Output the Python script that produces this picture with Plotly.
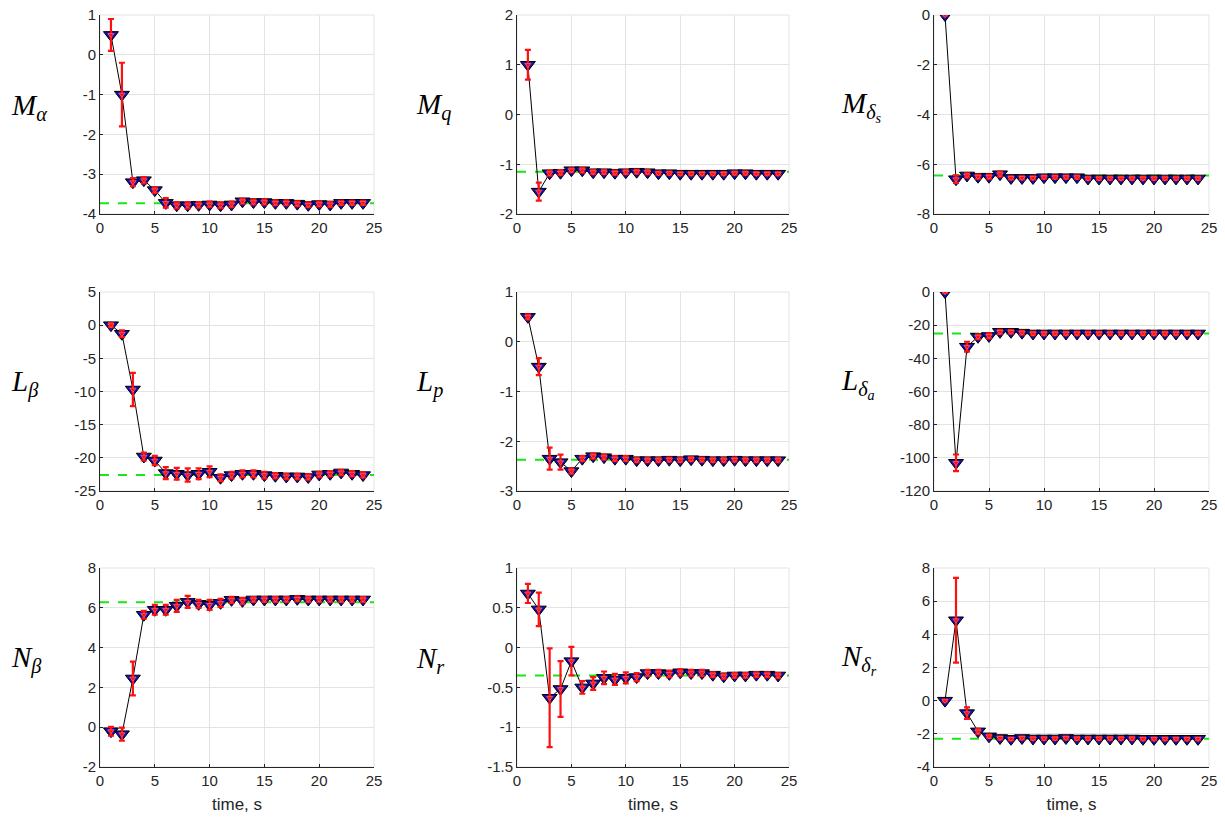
import plotly.graph_objects as go
from plotly.subplots import make_subplots

t = list(range(1, 25))

Ma = [0.5, -1.0, -3.2, -3.15, -3.4, -3.72, -3.78, -3.78, -3.77, -3.76, -3.78, -3.76,
      -3.68, -3.70, -3.70, -3.72, -3.72, -3.74, -3.77, -3.75, -3.76, -3.72, -3.72, -3.72]
Ma_err = [0.4, 0.8, 0.1, 0.08, 0.07, 0.12, 0.08, 0.08, 0.07, 0.07, 0.07, 0.07,
          0.06, 0.06, 0.06, 0.06, 0.06, 0.06, 0.06, 0.06, 0.06, 0.05, 0.05, 0.05]

Mq = [1.0, -1.55, -1.18, -1.17, -1.12, -1.12, -1.16, -1.16, -1.17, -1.16, -1.15, -1.16,
      -1.18, -1.18, -1.19, -1.19, -1.19, -1.19, -1.19, -1.18, -1.18, -1.19, -1.19, -1.19]
Mq_err = [0.3, 0.18, 0.05, 0.05, 0.04, 0.05, 0.04, 0.04, 0.04, 0.04, 0.04, 0.04,
          0.03, 0.03, 0.03, 0.03, 0.03, 0.03, 0.03, 0.03, 0.03, 0.03, 0.03, 0.03]

Mds = [0.0, -6.6, -6.45, -6.5, -6.5, -6.4, -6.55, -6.55, -6.55, -6.52, -6.52, -6.52,
       -6.52, -6.57, -6.57, -6.57, -6.57, -6.57, -6.57, -6.57, -6.57, -6.57, -6.57, -6.57]
Mds_err = [0.02, 0.15, 0.08, 0.08, 0.08, 0.1, 0.06, 0.06, 0.06, 0.06, 0.06, 0.06,
           0.06, 0.06, 0.06, 0.06, 0.06, 0.06, 0.06, 0.06, 0.06, 0.06, 0.06, 0.06]

Lb = [0.0, -1.3, -9.7, -19.8, -20.4, -22.3, -22.4, -22.6, -22.4, -22.1, -23.0, -22.6,
      -22.4, -22.4, -22.6, -22.7, -22.8, -22.8, -22.9, -22.5, -22.4, -22.2, -22.4, -22.6]
Lb_err = [0.3, 0.5, 2.5, 0.6, 0.7, 0.9, 0.9, 1.0, 0.8, 0.8, 0.5, 0.5,
          0.5, 0.5, 0.5, 0.4, 0.4, 0.4, 0.4, 0.4, 0.4, 0.4, 0.4, 0.4]

Lp = [0.5, -0.5, -2.35, -2.42, -2.6, -2.35, -2.3, -2.32, -2.35, -2.35, -2.38, -2.38,
      -2.38, -2.37, -2.38, -2.36, -2.37, -2.38, -2.38, -2.37, -2.38, -2.38, -2.38, -2.38]
Lp_err = [0.05, 0.17, 0.22, 0.15, 0.05, 0.05, 0.05, 0.05, 0.05, 0.05, 0.04, 0.04,
          0.04, 0.04, 0.04, 0.04, 0.04, 0.04, 0.04, 0.04, 0.04, 0.04, 0.04, 0.04]

Lda = [0.0, -103.0, -33.0, -27.0, -26.5, -24.0, -24.0, -24.5, -25.0, -25.0, -25.0, -25.0,
       -25.0, -25.0, -25.0, -25.0, -25.0, -25.0, -25.0, -25.0, -25.0, -25.0, -25.0, -25.0]
Lda_err = [0.5, 5.0, 3.0, 1.5, 1.5, 1.2, 1.0, 1.0, 1.0, 1.0, 1.0, 1.0,
           1.0, 1.0, 1.0, 1.0, 1.0, 1.0, 1.0, 1.0, 1.0, 1.0, 1.0, 1.0]

Nb = [-0.2, -0.35, 2.45, 5.65, 5.9, 5.9, 6.1, 6.3, 6.2, 6.15, 6.25, 6.4,
      6.35, 6.42, 6.42, 6.42, 6.42, 6.45, 6.42, 6.42, 6.42, 6.42, 6.42, 6.42]
Nb_err = [0.22, 0.33, 0.85, 0.2, 0.25, 0.25, 0.3, 0.3, 0.2, 0.25, 0.2, 0.15,
          0.15, 0.12, 0.12, 0.12, 0.12, 0.12, 0.12, 0.12, 0.12, 0.12, 0.12, 0.12]

Nr = [0.68, 0.48, -0.63, -0.52, -0.17, -0.5, -0.45, -0.38, -0.4, -0.38, -0.37, -0.32,
      -0.32, -0.33, -0.31, -0.32, -0.32, -0.34, -0.36, -0.35, -0.35, -0.34, -0.34, -0.35]
Nr_err = [0.12, 0.21, 0.62, 0.35, 0.18, 0.08, 0.08, 0.08, 0.07, 0.07, 0.05, 0.04,
          0.04, 0.04, 0.04, 0.04, 0.04, 0.03, 0.03, 0.03, 0.03, 0.03, 0.03, 0.03]

Ndr = [0.0, 4.85, -0.75, -1.85, -2.15, -2.25, -2.3, -2.25, -2.28, -2.28, -2.28, -2.25,
       -2.28, -2.28, -2.28, -2.28, -2.28, -2.28, -2.3, -2.3, -2.3, -2.3, -2.3, -2.3]
Ndr_err = [0.05, 2.55, 0.35, 0.15, 0.1, 0.08, 0.08, 0.08, 0.08, 0.08, 0.08, 0.08,
           0.08, 0.08, 0.08, 0.08, 0.08, 0.08, 0.08, 0.08, 0.08, 0.08, 0.08, 0.08]

truth = [-3.73, -1.15, -6.45, -22.6, -2.37, -25.0, 6.28, -0.35, -2.3]

labels = ["<i>M</i><sub><i>α</i></sub>", "<i>M</i><sub><i>q</i></sub>",
          "<i>M</i><sub><i>δ</i><sub><i>s</i></sub></sub>",
          "<i>L</i><sub><i>β</i></sub>", "<i>L</i><sub><i>p</i></sub>",
          "<i>L</i><sub><i>δ</i><sub><i>a</i></sub></sub>",
          "<i>N</i><sub><i>β</i></sub>", "<i>N</i><sub><i>r</i></sub>",
          "<i>N</i><sub><i>δ</i><sub><i>r</i></sub></sub>"]

y_ranges = [(-4, 1), (-2, 2), (-8, 0), (-25, 5), (-3, 1), (-120, 0), (-2, 8), (-1.5, 1), (-4, 8)]
y_ticks = [[-4, -3, -2, -1, 0, 1], [-2, -1, 0, 1, 2], [-8, -6, -4, -2, 0],
           [-25, -20, -15, -10, -5, 0, 5], [-3, -2, -1, 0, 1],
           [-120, -100, -80, -60, -40, -20, 0], [-2, 0, 2, 4, 6, 8],
           [-1.5, -1, -0.5, 0, 0.5, 1], [-4, -2, 0, 2, 4, 6, 8]]
x_ticks = [0, 5, 10, 15, 20, 25]

series = [(Ma, Ma_err), (Mq, Mq_err), (Mds, Mds_err), (Lb, Lb_err), (Lp, Lp_err),
          (Lda, Lda_err), (Nb, Nb_err), (Nr, Nr_err), (Ndr, Ndr_err)]

W, H = 1225, 825
col_px = [(100, 374), (517, 789), (934, 1209)]
row_px = [(15, 214), (292, 491), (568, 767)]
label_x = [9, 414, 839]

fig = make_subplots(rows=3, cols=3)

tick_font = dict(family="Liberation Sans, Arial, sans-serif", size=15, color="#262626")

for i, ((y, e), g) in enumerate(zip(series, truth)):
    r, c = i // 3 + 1, i % 3 + 1
    fig.add_trace(go.Scatter(x=[0, 25], y=[g, g], mode="lines",
                             line=dict(color="#19e619", width=2, dash="dash"),
                             showlegend=False, hoverinfo="skip"), row=r, col=c)
    fig.add_trace(go.Scatter(x=t, y=y, mode="lines+markers",
                             line=dict(color="black", width=1),
                             marker=dict(symbol="triangle-down", size=13, color="#1010b8",
                                         line=dict(color="black", width=1)),
                             showlegend=False), row=r, col=c)
    fig.add_trace(go.Scatter(x=t, y=y, mode="markers",
                             marker=dict(symbol="triangle-down", size=5.5, color="#ff1010",
                                         line=dict(color="#ff6060", width=0.8)),
                             error_y=dict(type="data", array=e, visible=True, color="#ff1010",
                                          thickness=2.2, width=3),
                             showlegend=False), row=r, col=c)

    ax_idx = "" if i == 0 else str(i + 1)
    x0, x1 = col_px[c - 1]
    yt, yb = row_px[r - 1]
    fig.layout["xaxis" + ax_idx].update(
        domain=[x0 / W, x1 / W], range=[0, 25], tickvals=x_ticks, automargin=False,
        ticktext=[f"{v:g}" for v in x_ticks], ticks="inside", ticklen=3,
        tickcolor="#262626", showline=True, linecolor="#262626", linewidth=1,
        showgrid=True, gridcolor="#e3e3e3", gridwidth=1, zeroline=False,
        tickfont=tick_font, title=dict(text="time, s" if r == 3 else "",
                                       font=dict(family="Liberation Sans, Arial, sans-serif", size=17, color="#262626"),
                                       standoff=10))
    fig.layout["yaxis" + ax_idx].update(
        domain=[1 - yb / H, 1 - yt / H], range=list(y_ranges[i]), tickvals=y_ticks[i],
        automargin=False,
        ticktext=[f"{v:g}" for v in y_ticks[i]], ticks="inside", ticklen=3,
        tickcolor="#262626", showline=True, linecolor="#262626", linewidth=1,
        showgrid=True, gridcolor="#e3e3e3", gridwidth=1, zeroline=False,
        tickfont=tick_font)
    fig.add_shape(type="rect", xref=f"x{ax_idx} domain", yref=f"y{ax_idx} domain",
                  x0=0, x1=1, y0=0, y1=1, line=dict(color="#e3e3e3", width=1), layer="below")
    fig.add_annotation(x=label_x[c - 1] / W, y=1 - ((yt + yb) / 2 - 8) / H, xref="paper", yref="paper",
                       xanchor="left", yanchor="middle", showarrow=False, text=labels[i],
                       font=dict(family="Liberation Serif, Times New Roman, serif", size=29, color="black"))

fig.update_layout(width=W, height=H, autosize=False, margin=dict(l=0, r=0, t=0, b=0, autoexpand=False),
                  paper_bgcolor="white", plot_bgcolor="white", template="none")

fig.write_html("out.html", config={"displayModeBar": False},
               post_script="document.body.style.margin='0';document.body.style.overflow='hidden';")
